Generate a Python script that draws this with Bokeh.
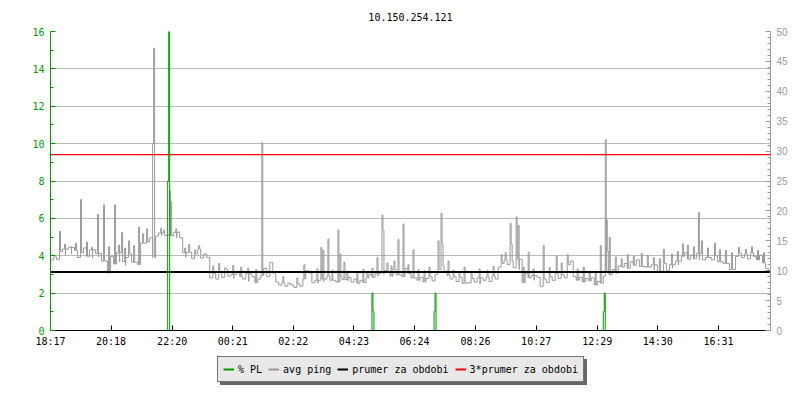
import numpy as np
from bokeh.plotting import figure
from bokeh.layouts import column
from bokeh.models import (Range1d, LinearAxis, FixedTicker, SingleIntervalTicker,
                          Legend, LegendItem)
from bokeh.embed import file_html
from bokeh.resources import INLINE

# ---------------- data ----------------
title_text = "10.150.254.121"
x_tick_labels = ["18:17", "20:18", "22:20", "00:21", "02:22", "04:23",
                 "06:24", "08:26", "10:27", "12:29", "14:30", "16:31"]
start_label = "18:17"
span_minutes = 1438          # length of the graphed period (minutes)

# avg ping (ms), one value every 6 minutes starting at 18:17
sample_step = 6
ping_base = [
    11.8, 12.3, 11.9, 13.2, 13.6, 12.5, 13.9, 12.8, 13.4, 12.2,
    13.0, 13.8, 12.4, 13.5, 12.1, 12.9, 12.3, 11.6, 12.7, 9.6,
    12.4, 11.1, 13.0, 11.5, 12.2, 10.9, 12.8, 11.4, 12.0, 11.0,
    14.6, 15.3, 14.8, 15.5, 12.2, 15.8, 16.3, 15.9, 16.6, 16.0,
    15.8, 16.4, 15.5, 16.2, 13.0, 12.2, 13.1, 12.0, 12.8, 13.6,
    12.1, 12.8, 12.2, 8.8, 9.5, 8.6, 9.8, 8.9, 10.3, 9.1,
    9.4, 8.7, 9.9, 9.0, 8.6, 9.5, 8.2, 9.0, 8.0, 8.6,
    9.2, 10.4, 9.0, 11.4, 9.6, 8.1, 7.6, 8.0, 7.4, 7.9,
    7.6, 7.2, 7.8, 7.4, 8.6, 10.0, 9.6, 8.0, 8.4, 7.9,
    8.6, 8.2, 9.1, 8.4, 8.8, 8.1, 9.0, 8.5, 8.9, 8.3,
    8.1, 8.6, 7.9, 8.4, 8.0, 8.8, 9.4, 8.9, 9.5, 9.1,
    10.0, 9.4, 9.8, 9.1, 10.2, 9.3, 9.9, 9.0, 10.4, 9.5,
    8.8, 9.2, 8.4, 8.9, 8.1, 8.7, 9.0, 8.3, 9.4, 10.2,
    10.8, 9.9, 9.2, 8.6, 9.0, 8.2, 8.9, 7.9, 8.5, 8.0,
    8.7, 8.1, 8.8, 7.8, 8.4, 8.9, 8.2, 9.1, 8.6, 10.6,
    11.2, 11.8, 11.0, 11.6, 10.5, 11.9, 10.2, 8.0, 9.6, 8.8,
    9.2, 8.4, 8.9, 7.4, 8.6, 8.0, 9.0, 8.4, 9.5, 8.7,
    9.3, 8.8, 11.0, 11.6, 9.0, 8.4, 8.9, 8.1, 8.7, 8.3,
    8.8, 7.6, 8.2, 7.9, 9.1, 9.8, 9.3, 10.2, 9.6, 10.8,
    10.6, 11.2, 10.4, 11.5, 10.9, 11.8, 10.7, 11.3, 10.6, 11.9,
    11.0, 10.1, 9.7, 10.5, 11.2, 10.0, 11.0, 10.4, 11.6, 11.0,
    12.4, 13.0, 11.9, 12.6, 12.0, 12.9, 11.8, 13.1, 12.2, 12.7,
    11.8, 12.5, 11.5, 12.3, 11.2, 12.0, 10.2, 11.6, 12.4, 12.9,
    12.2, 12.8, 12.0, 13.0, 12.4, 11.8, 12.6, 11.3, 10.4, 10.0,
]

# tall ping spikes: minute after 18:17, value in ms
spike_minutes = [18, 60, 94, 106, 128, 142, 156, 176, 204, 206, 238, 240, 256, 296,
                 422, 540, 544, 554, 574, 578, 586, 652, 662, 664, 694, 704, 724,
                 774, 780, 782, 794, 918, 920, 930, 934, 954, 984, 1010, 1098, 1108,
                 1110, 1112, 1116, 1224, 1262, 1294, 1326, 1374]
spike_ms = [16.6, 21.9, 19.4, 21.0, 21.0, 16.4, 15.0, 17.3, 31.3, 47.2, 23.3, 21.5,
            16.5, 14.2, 31.4, 13.9, 13.4, 15.3, 16.8, 12.8, 11.4, 12.2, 19.3, 16.8,
            15.2, 17.8, 13.5, 15.0, 19.6, 14.5, 11.6, 17.9, 14.5, 19.0, 17.6, 13.1,
            14.2, 12.5, 14.2, 31.9, 18.5, 13.3, 15.6, 13.6, 14.5, 19.7, 14.6, 13.9]

# small short ping jitter peaks: minute after 18:17, value in ms
hair_minutes = [28, 40, 50, 72, 82, 116, 136, 148, 166, 184, 192, 220, 226, 250, 268,
                276, 288, 324, 336, 348, 364, 380, 394, 410, 464, 492, 506, 516, 532,
                562, 592, 612, 624, 632, 642, 672, 680, 686, 714, 734, 746, 756, 804,
                816, 826, 840, 856, 872, 884, 900, 908, 944, 964, 996, 1020, 1032, 1052,
                1064, 1076, 1088, 1128, 1140, 1152, 1164, 1180, 1192, 1204, 1216, 1240,
                1252, 1272, 1284, 1300, 1312, 1336, 1348, 1360, 1388, 1400, 1412, 1424]
hair_ms = [14.4, 14.0, 14.6, 14.8, 13.9, 14.0, 14.3, 13.8, 14.2, 16.2, 17.0, 17.1,
           16.8, 17.0, 13.8, 14.4, 13.5, 10.8, 11.2, 10.5, 10.9, 10.6, 10.4, 10.2,
           9.0, 8.8, 11.0, 9.8, 10.3, 10.1, 9.9, 9.6, 10.2, 9.9, 10.4, 11.3, 10.8,
           11.6, 11.0, 10.2, 10.0, 10.6, 10.1, 9.8, 10.6, 9.9, 10.3, 10.0, 10.7,
           12.7, 13.0, 10.6, 10.3, 10.5, 11.3, 12.7, 10.3, 10.6, 9.9, 9.6, 12.3,
           12.0, 12.7, 12.4, 12.9, 12.6, 12.2, 12.0, 12.8, 13.2, 14.3, 14.0, 15.0,
           13.8, 13.5, 13.4, 13.0, 13.6, 14.0, 13.4, 13.0]

# packet loss (%)
pl_minutes = [0, 234, 236, 238, 642, 644, 646, 766, 768, 770, 1104, 1106, 1108, 1438]
pl_percent = [0, 8, 16, 0, 2, 1, 0, 1, 2, 0, 1, 2, 0, 0]

avg_ping_ms = 9.8            # "prumer za obdobi"
limit_factor = 3             # "3*prumer za obdobi"

legend_labels = ["% PL", "avg ping", "prumer za obdobi", "3*prumer za obdobi"]

# ---------------- processing ----------------
assert len(spike_minutes) == len(spike_ms)
assert len(hair_minutes) == len(hair_ms)


def to_minutes(label):
    h, m = map(int, label.split(":"))
    sh, sm = map(int, start_label.split(":"))
    d = (h * 60 + m) - (sh * 60 + sm)
    return d if d >= 0 else d + 1440


x_ticks = [to_minutes(s) for s in x_tick_labels]

peak_t = spike_minutes + hair_minutes
peak_v = spike_ms + hair_ms
t_all = [i * sample_step for i in range(len(ping_base))]
v_all = list(ping_base)
peak_set = set(peak_t)
for t, v in zip(peak_t, peak_v):
    t_all.append(t)
    v_all.append(v)
    if t + 2 not in peak_set:
        t_all.append(t + 2)
        v_all.append(ping_base[int(t // sample_step)])
t_all.append(span_minutes)
v_all.append(ping_base[-1])
order = np.argsort(np.array(t_all, dtype=float), kind="stable")
ping_t = [t_all[i] for i in order]
ping_v = [v_all[i] for i in order]

# ---------------- figure ----------------
GREEN = "#009900"
GRAY = "#999999"
MONO = "DejaVu Sans Mono"

p = figure(width=800, height=352, x_range=Range1d(0, span_minutes), y_range=Range1d(0, 16),
           output_backend="svg", toolbar_location=None,
           min_border_left=50, min_border_right=30, min_border_top=31, min_border_bottom=22)
p.extra_y_ranges = {"ping": Range1d(0, 50)}
p.outline_line_color = None
p.background_fill_color = "white"
p.border_fill_color = "white"

p.title.text = title_text
p.title.align = "center"
p.title.offset = -10
p.title.standoff = 21
p.title.text_font = MONO
p.title.text_font_size = "10px"
p.title.text_font_style = "normal"
p.title.text_color = "black"

# grid
left_ticker = SingleIntervalTicker(interval=2, num_minor_ticks=2)
p.xgrid.visible = False
p.ygrid.ticker = left_ticker
p.ygrid.grid_line_color = "#bbbbbb"
p.ygrid.grid_line_width = 1

# left axis
ya = p.yaxis[0]
ya.ticker = left_ticker
for attr in ("axis_line_color", "major_tick_line_color", "minor_tick_line_color",
             "major_label_text_color"):
    setattr(ya, attr, GREEN)
ya.major_tick_in = 5
ya.major_tick_out = 0
ya.minor_tick_in = 3
ya.minor_tick_out = 0
ya.major_label_text_font = MONO
ya.major_label_text_font_size = "10px"
ya.major_label_standoff = 6

# right axis
ra = LinearAxis(y_range_name="ping", ticker=SingleIntervalTicker(interval=5, num_minor_ticks=5))
for attr in ("axis_line_color", "major_tick_line_color", "minor_tick_line_color",
             "major_label_text_color"):
    setattr(ra, attr, GRAY)
ra.major_tick_in = 5
ra.major_tick_out = 0
ra.minor_tick_in = 3
ra.minor_tick_out = 0
ra.major_label_text_font = "Liberation Sans"
ra.major_label_text_font_size = "10px"
ra.major_label_standoff = 6
p.add_layout(ra, "right")

# bottom axis
xa = p.xaxis[0]
xa.ticker = FixedTicker(ticks=x_ticks, minor_ticks=[])
xa.major_label_overrides = {t: lab for t, lab in zip(x_ticks, x_tick_labels)}
xa.axis_line_color = "black"
xa.major_tick_line_color = "black"
xa.major_tick_in = 5
xa.major_tick_out = 0
xa.minor_tick_line_color = None
xa.major_label_text_font = MONO
xa.major_label_text_font_size = "10px"
xa.major_label_text_color = "black"
xa.major_label_standoff = 5

# data renderers
p.step(ping_t, ping_v, mode="after", line_color=GRAY, line_width=1, y_range_name="ping")
p.line([0, span_minutes], [avg_ping_ms, avg_ping_ms], line_color="black", line_width=2,
       y_range_name="ping")
p.line([0, span_minutes], [avg_ping_ms * limit_factor] * 2, line_color="red", line_width=1.2,
       y_range_name="ping")
p.step(pl_minutes, pl_percent, mode="after", line_color=GREEN, line_width=1)

# ---------------- legend strip ----------------
lg = figure(width=800, height=48, x_range=Range1d(0, 1), y_range=Range1d(0, 1),
            output_backend="svg", toolbar_location=None, x_axis_location=None,
            y_axis_location=None, min_border=0)
lg.outline_line_color = None
lg.grid.visible = False
lg.background_fill_color = "white"
lg.border_fill_color = "white"

sw_colors = [GREEN, GRAY, "black", "red"]
# swatch-only renderers, kept outside the visible range of the strip
sw = [lg.line([-5, -4], [-5, -5], line_color=c, line_width=2) for c in sw_colors]
sh = lg.line([-5, -4], [-5, -5], line_color="#666666", line_width=2)

legend_kw = dict(orientation="horizontal", padding=5, spacing=6, margin=0,
                 glyph_width=11, glyph_height=14, label_height=14, label_standoff=4,
                 label_text_font=MONO, label_text_font_size="10px",
                 border_line_width=1, background_fill_alpha=1)
# shadow box: blank labels of the same width (monospace) so it matches the legend size
shadow = Legend(items=[LegendItem(label="\u00a0" * len(l), renderers=[sh]) for l in legend_labels],
                location=(170, 15), border_line_color="#666666",
                background_fill_color="#666666", label_text_color="#666666", **legend_kw)
legend = Legend(items=[LegendItem(label=l, renderers=[r]) for l, r in zip(legend_labels, sw)],
                location=(167, 18), border_line_color="black",
                background_fill_color="#e8e8e8", label_text_color="black", **legend_kw)
lg.add_layout(shadow, "center")
lg.add_layout(legend, "center")

layout = column(p, lg, spacing=0)
open("out.html", "w").write(file_html(layout, INLINE))
